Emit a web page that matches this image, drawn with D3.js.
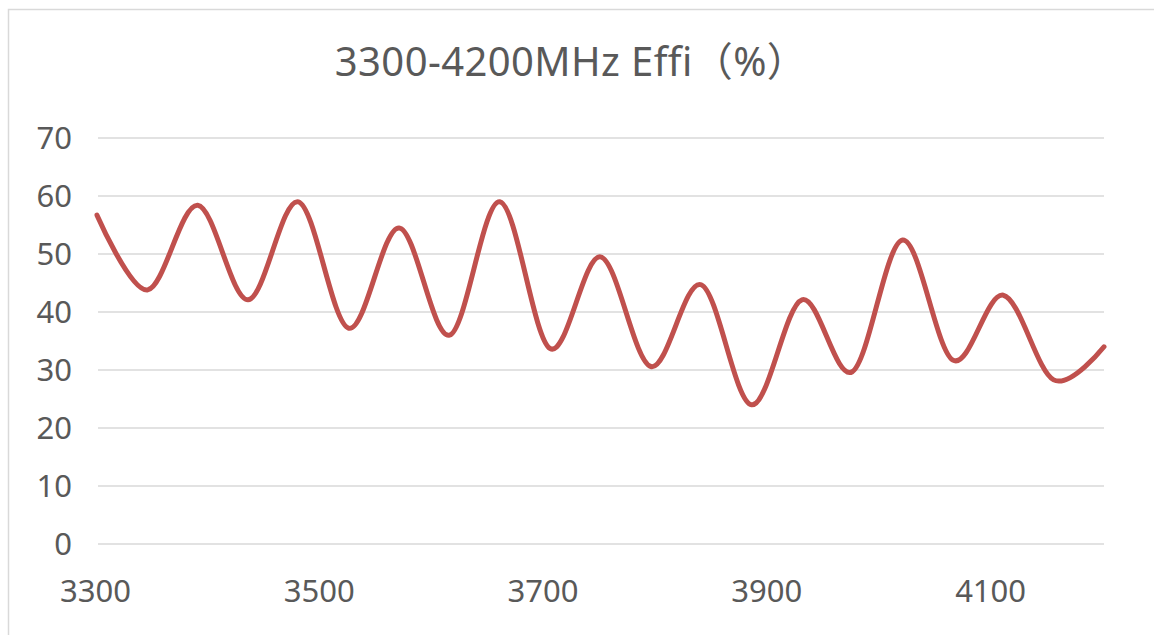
<!DOCTYPE html>
<html>
<head>
<meta charset="utf-8">
<script src="https://cdn.jsdelivr.net/npm/d3@7"></script>
<style>
  body { margin: 0; background: #fff; }
  text { font-family: "Noto Sans", "Noto Sans CJK SC", sans-serif; fill: #595959; }
</style>
</head>
<body>
<script>
// Data: frequency (MHz) and efficiency (%)
let freqs = [3300, 3345, 3390, 3435, 3480, 3525, 3570, 3615, 3660, 3705, 3750,
             3795, 3840, 3885, 3930, 3975, 4020, 4065, 4110, 4155, 4200];
let effi = [56.7, 43.8, 58.4, 42.1, 59.0, 37.2, 54.5, 36.0, 59.0, 33.7, 49.5,
            30.6, 44.7, 24.0, 42.1, 29.7, 52.4, 31.7, 42.9, 28.3, 34.0];
let xTicks = [3300, 3500, 3700, 3900, 4100];
let yTicks = [0, 10, 20, 30, 40, 50, 60, 70];
let title = '3300-4200MHz Effi（%）';

let data = freqs.map((f, i) => ({ freq: f, value: effi[i] }));

let width = 1154, height = 635;
let margin = { top: 138, bottom: 91, left: 97, right: 50 };

let svg = d3.select('body')
  .append('svg')
  .attr('width', width)
  .attr('height', height);

// chart area border
svg.append('rect')
  .attr('x', 8.5)
  .attr('y', 9.5)
  .attr('width', 1200)
  .attr('height', 640)
  .attr('fill', 'none')
  .attr('stroke', '#d9d9d9')
  .attr('stroke-width', 1.5);

let xScale = d3.scaleLinear()
  .domain([3300, 4200])
  .range([margin.left, width - margin.right]);

let yScale = d3.scaleLinear()
  .domain([0, 70])
  .range([height - margin.bottom, margin.top]);

// gridlines
svg.append('g')
  .selectAll('line')
  .data(yTicks)
  .enter()
  .append('line')
  .attr('x1', margin.left + 1)
  .attr('x2', width - margin.right)
  .attr('y1', d => yScale(d))
  .attr('y2', d => yScale(d))
  .attr('stroke', '#d9d9d9')
  .attr('stroke-width', 1.5);

// y axis labels
let yAxis = svg.append('g')
  .attr('transform', `translate(${margin.left - 25},0)`)
  .call(d3.axisLeft(yScale).tickValues(yTicks).tickSize(0).tickPadding(0));
yAxis.select('.domain').remove();
yAxis.selectAll('text')
  .style('font-size', '31px')
  .attr('dy', '0.35em');

// x axis labels
let xAxis = svg.append('g')
  .attr('transform', `translate(-2, ${height - margin.bottom + 32})`)
  .call(d3.axisBottom(xScale).tickValues(xTicks).tickFormat(d3.format('d')).tickSize(0).tickPadding(0));
xAxis.select('.domain').remove();
xAxis.selectAll('text')
  .style('font-size', '31px')
  .attr('dy', '0.85em');

// title
svg.append('text')
  .attr('x', 571)
  .attr('y', 76)
  .attr('text-anchor', 'middle')
  .style('font-size', '40px')
  .style('letter-spacing', '0.4px')
  .text(title);

// smoothed line
let line = d3.line()
  .x(d => xScale(d.freq))
  .y(d => yScale(d.value))
  .curve(d3.curveCardinal.tension(0));

svg.append('path')
  .datum(data)
  .attr('d', line)
  .attr('fill', 'none')
  .attr('stroke', '#c0504d')
  .attr('stroke-width', 5)
  .attr('stroke-linecap', 'round');
</script>
</body>
</html>
